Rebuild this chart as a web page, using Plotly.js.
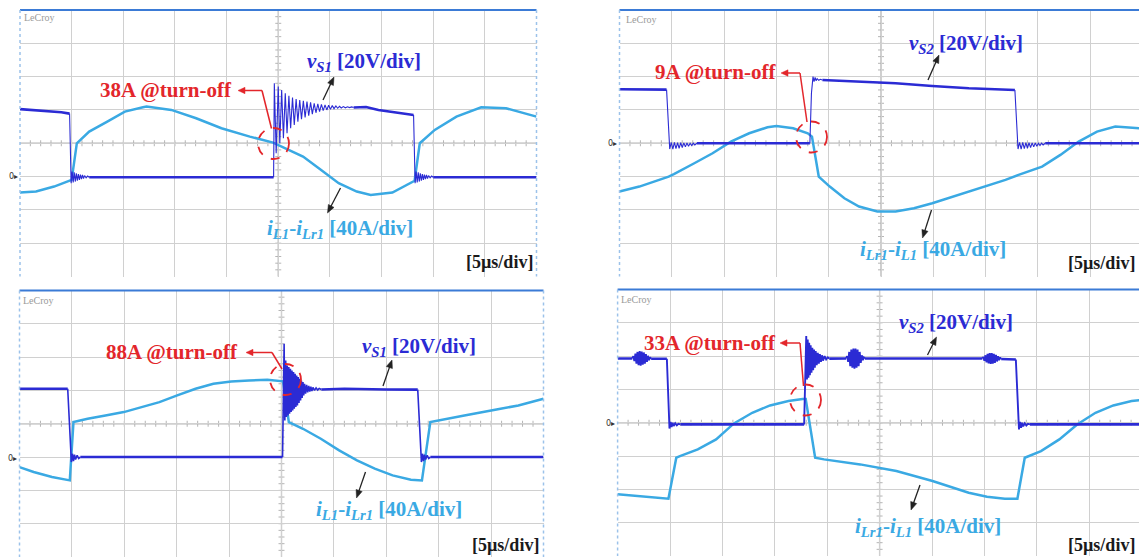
<!DOCTYPE html>
<html>
<head>
<meta charset="utf-8">
<script src="https://cdn.plot.ly/plotly-3.0.1.min.js"></script>
<style>html,body{margin:0;padding:0;background:#fff;}#chart{width:1139px;height:559px;}</style>
</head>
<body>
<div id="chart"></div>
<script>
// ===== DATA (time in µs, voltage in V, current in A) =====
// Panel 1 (top-left): vS1 and iL1-iLr1, 38A @turn-off
const p1_vs = [[-25,40.5],[-23,39.6],[-21,38.6],[-20.2,37.8],null,[-18.3,-0.4],[-15,-0.4],[-10,-0.5],[-5,-0.3],[-0.45,-0.4],null,[7.3,41.5],[8.5,41.8],[9.7,40],[11,38.8],[12.9,37.2],[13.1,37],null,[15,-0.4],[20,-0.5],[25,-0.4]];
const p1_ring = [[-20.2,37.8],[-20.1,10],[-20.05,-4],[-19.95,3],[-19.85,-3.5],[-19.75,2.5],[-19.65,-3],[-19.55,2],[-19.45,-2.5],[-19.35,1.5],[-19.25,-2],[-19.15,1.2],[-19.05,-1.5],[-18.95,1],[-18.85,-1.2],[-18.75,0.6],[-18.6,-0.8],[-18.45,0.3],[-18.3,-0.4],null,
 [-0.45,-0.4],[-0.38,56],[-0.2,14],[0,54],[0.15,20],[0.33,52],[0.5,23],[0.68,50],[0.85,26],[1.03,48.5],[1.2,29],[1.38,47.5],[1.55,31],[1.73,46.5],[1.9,33],[2.08,46],[2.25,34.5],[2.43,45.5],[2.6,35.5],[2.78,45],[2.95,36.5],[3.13,44.5],[3.3,37.5],[3.48,44],[3.65,38.3],[3.83,43.6],[4,39],[4.18,43.3],[4.35,39.6],[4.53,43],[4.7,40],[4.88,42.8],[5.05,40.4],[5.23,42.6],[5.4,40.8],[5.58,42.4],[5.75,41],[5.93,42.2],[6.1,41.2],[6.3,42],[6.5,41.3],[6.7,41.9],[6.9,41.4],[7.1,41.8],[7.3,41.5],null,
 [13.1,37],[13.2,10],[13.25,-4],[13.35,3],[13.45,-3.5],[13.55,2.5],[13.65,-3],[13.75,2],[13.85,-2.5],[13.95,1.5],[14.05,-2],[14.15,1.2],[14.25,-1.5],[14.35,1],[14.45,-1.2],[14.55,0.6],[14.7,-0.8],[14.85,0.3],[15,-0.4]];
const p1_i = [[-25,-19.2],[-23.45,-18],[-21.7,-12],[-20.15,-4],[-20,-4],[-19.5,40],[-18.3,54],[-16.55,66],[-14.85,78],[-13.1,83.2],[-12.75,84],[-10.35,80],[-7.95,70],[-5.5,58],[-2.75,48],[-0.5,40.8],[0.7,34],[2.4,24],[4.15,8],[5.85,-8],[7.6,-18],[8.95,-22],[11.05,-19.2],[13.1,-6],[13.2,-5],[13.7,40],[15.15,56],[17.25,72],[19.65,83.2],[22.05,82],[25,72]];

// Panel 2 (top-right): vS2 and iLr1-iL1, 9A @turn-off
const p2_vs = [[-25,32.4],[-22,32.4],[-20.5,32.2],null,[-17.6,0],[-12,0.2],[-8,0],[-6.8,0],null,[-5.6,38],[-2.1,37],[1.4,36],[4.9,34.4],[8.4,33],[12.8,32],null,[15.7,0],[20,0.2],[24.7,0]];
const p2_ring = [[-20.5,32.2],[-20.3,5],[-20.2,-3.5],[-20.05,0.5],[-19.9,-3.5],[-19.75,0.5],[-19.6,-3.2],[-19.45,0.3],[-19.3,-3],[-19.15,0.3],[-19,-2.6],[-18.85,0.2],[-18.7,-2.2],[-18.55,0.2],[-18.4,-1.8],[-18.25,0],[-18.1,-1.4],[-17.95,0],[-17.8,-1],[-17.6,0],null,
 [-6.8,0],[-6.65,30],[-6.5,40],[-6.4,37],[-6.3,39.5],[-6.2,37.5],[-6.1,38.8],[-5.95,37.8],[-5.8,38.4],[-5.6,38],null,
 [12.8,32],[13,5],[13.1,-3.5],[13.25,0.5],[13.4,-3.5],[13.55,0.5],[13.7,-3.2],[13.85,0.3],[14,-3],[14.15,0.3],[14.3,-2.6],[14.45,0.2],[14.6,-2.2],[14.75,0.2],[14.9,-1.8],[15.05,0],[15.2,-1.4],[15.35,0],[15.5,-1],[15.7,0]];
const p2_i = [[-25,-58],[-23.1,-52],[-20.3,-40],[-19.8,-37],[-17.85,-24],[-16.1,-12],[-14.35,2],[-12.6,12],[-10.85,19.2],[-10,20.8],[-8.4,18],[-7,12],[-6.6,8],[-5.95,-40],[-4.9,-52],[-3.5,-66],[-2.1,-76],[-0.35,-82],[1.4,-82],[3.15,-78],[4.9,-72],[8.4,-58],[11.9,-44],[13.15,-38],[15.4,-28],[17.15,-14],[18.9,2],[20.65,14],[22.4,20],[24.8,18]];

// Panel 3 (bottom-left): vS1 and iL1-iLr1, 88A @turn-off
const p3_vs = [[-25,41],[-20.4,41],null,[-19.2,0],[-10,0],[0.1,0],null,[3.8,40.6],[6,41],[10,40.6],[13,40.5],null,[14.2,0],[20,0],[25,0]];
const p3_ring = [[-20.4,41],[-20.15,5],[-20.05,-3],[-19.95,2],[-19.85,-2.5],[-19.75,1.5],[-19.65,-1.5],[-19.5,1],[-19.35,-0.8],[-19.2,0],null,
 [0.1,0],[0.25,68],[0.32,22],[0.4,58],[0.47,24],[0.55,55],[0.62,25],[0.7,54],[0.77,26],[0.85,53],[0.92,27],[1,52],[1.07,28],[1.15,51],[1.22,29],[1.3,50],[1.37,30],[1.45,49],[1.52,31],[1.6,48],[1.67,32.5],[1.75,47],[1.82,34],[1.9,46],[1.97,35.5],[2.05,45],[2.12,37],[2.2,44],[2.3,38],[2.4,43.3],[2.5,38.8],[2.6,42.7],[2.7,39.3],[2.8,42.2],[2.9,39.7],[3,41.8],[3.15,40],[3.3,41.5],[3.45,40.3],[3.6,41.2],[3.8,40.6],null,
 [13,40.5],[13.25,5],[13.35,-3],[13.45,2],[13.55,-2.5],[13.65,1.5],[13.75,-1.5],[13.9,1],[14.05,-0.8],[14.2,0]];
const p3_i = [[-25,-12],[-23.65,-18],[-21.9,-24],[-20.4,-28],[-20.2,-28],[-19.85,42],[-18.5,46],[-16.8,50],[-15.05,54],[-13.35,60],[-11.65,66],[-9.95,74],[-8.2,82],[-6.5,88],[-4.8,90.8],[-3.1,92],[-1.35,92.8],[0.15,91],[0.7,42],[2.05,34],[3.75,22],[5.5,8],[7.2,-4],[8.9,-14],[10.6,-22],[12.35,-27.2],[13.2,-28],[13.4,-28],[14.2,42],[15.75,46],[17.45,50],[20.9,58],[22.6,62],[25,70]];

// Panel 4 (bottom-right): vS2 and iLr1-iL1, 33A @turn-off
const p4_vs = [[-25,38.6],[-23.6,38.6],null,[-21.8,38.4],[-20.3,38.4],null,[-19,-1],[-12,-1],[-7.2,-1],null,[-4.8,38.5],[-3.2,38.6],null,[-1.4,38.6],[5,38.6],[9.8,38.6],null,[11.6,38.3],[13,38],null,[14.35,-1],[20,-1],[24.8,-1]];
const p4_ring = [[-23.6,38.6],[-23.5,40],[-23.4,37],[-23.3,41.5],[-23.2,35.5],[-23.1,42.5],[-23,34.5],[-22.9,43],[-22.8,34.3],[-22.7,42.8],[-22.6,34.8],[-22.5,42.2],[-22.4,35.5],[-22.3,41.2],[-22.2,36.5],[-22.1,40.2],[-22,37.5],[-21.9,39.3],[-21.8,38.4],null,
 [-20.3,38.4],[-20.15,5],[-20.05,-3.5],[-19.95,0.5],[-19.85,-2.5],[-19.75,0],[-19.65,-2],[-19.5,-0.3],[-19.35,-1.5],[-19.2,-0.6],[-19,-1],null,
 [-7.2,-1],[-7.1,24.8],[-7,52],[-6.93,26],[-6.86,50],[-6.79,27],[-6.72,48],[-6.65,28.5],[-6.58,46.5],[-6.5,30],[-6.42,45],[-6.34,31.5],[-6.26,44],[-6.18,33],[-6.1,43],[-6,34.5],[-5.9,42],[-5.8,35.5],[-5.7,41.2],[-5.6,36.5],[-5.5,40.5],[-5.4,37.3],[-5.25,40],[-5.1,38],[-4.95,39.3],[-4.8,38.5],null,
 [-3.2,38.6],[-3.1,40],[-3,36.5],[-2.9,42.5],[-2.8,34],[-2.7,44],[-2.6,33],[-2.5,44.5],[-2.4,32.5],[-2.3,44.5],[-2.2,33],[-2.1,44],[-2,34],[-1.9,42.5],[-1.8,36],[-1.7,40.5],[-1.6,37.5],[-1.5,39.2],[-1.4,38.6],null,
 [9.8,38.6],[9.9,39.5],[10,37.2],[10.1,40.5],[10.2,36.2],[10.3,41.3],[10.4,35.6],[10.5,41.8],[10.6,35.3],[10.7,41.8],[10.8,35.5],[10.9,41.3],[11,36],[11.1,40.7],[11.2,36.8],[11.3,40],[11.4,37.6],[11.5,39.2],[11.6,38.3],null,
 [13,38],[13.2,5],[13.3,-4],[13.4,0.5],[13.5,-3],[13.6,0],[13.7,-2.2],[13.85,-0.3],[14,-1.6],[14.15,-0.6],[14.35,-1]];
const p4_i = [[-25,-86],[-22.5,-88.8],[-20.15,-91.2],[-19.4,-42],[-19.05,-40],[-17.35,-32],[-15.6,-20],[-13.9,-0.8],[-12.15,12],[-10.45,20.8],[-8.7,26],[-7.35,28.4],[-7.05,28.5],[-6.15,-42],[-5.3,-44],[-1.85,-50],[1.6,-58],[5.05,-70],[8.5,-84],[10.25,-88.8],[11.95,-91.2],[13.15,-91.2],[13.85,-42],[15.4,-34],[17.15,-20],[18.85,-2],[20.6,12],[22.3,20.8],[24.05,26],[25,27.2]];

// Text labels
const vLabels = ['<i>v<sub>S1</sub></i> [20V/div]','<i>v<sub>S2</sub></i> [20V/div]','<i>v<sub>S1</sub></i> [20V/div]','<i>v<sub>S2</sub></i> [20V/div]'];
const iLabels = ['<i>i<sub>L1</sub></i>-<i>i<sub>Lr1</sub></i> [40A/div]','<i>i<sub>Lr1</sub></i>-<i>i<sub>L1</sub></i> [40A/div]','<i>i<sub>L1</sub></i>-<i>i<sub>Lr1</sub></i> [40A/div]','<i>i<sub>Lr1</sub></i>-<i>i<sub>L1</sub></i> [40A/div]'];
const offLabels = ['38A @turn-off','9A @turn-off','88A @turn-off','33A @turn-off'];
const timeLabel = '[5µs/div]';

// ===== LAYOUT / STYLE =====
const W = 1139, H = 559;
const px = x => x / W, py = y => 1 - y / H;
const DB = '#2b2bd4', LB = '#3aa9e3', RED = '#e3262b';
const FONT = 'Liberation Serif';

const panels = [
  {L:20, R:536.5, T:10, B:276.5, span:50, vr:[-60,100], ir:[-120,200], right:true, rw:1.1,
   vs:p1_vs, ring:p1_ring, cur:p1_i,
   vlab:[305,62], varr:[334,77,323,100], ilab:[265,229], iarr:[327.5,213,340.5,188],
   olab:[98,90], oarr:[238,90.5,262,90.5,271.5,128.5], circ:[273.5,143.5], tlab:[535,262], lc:[22,18], zero:[20,177]},
  {L:619.5, R:1139, T:10, B:276.5, span:5*(1139-619.5)/52.3, vr:[-80,80], ir:[-160,160], right:false, rw:1.1,
   vs:p2_vs, ring:p2_ring, cur:p2_i,
   vlab:[907,43.5], varr:[939,55,928,80], ilab:[858,250], iarr:[922.5,238,931.5,210],
   olab:[653,72], oarr:[781,73,800,73,807,122], circ:[811.5,137], tlab:[1137,263], lc:[624,19], zero:[619,143]},
  {L:19.5, R:543.5, T:290.5, B:557, span:50, vr:[-60,100], ir:[-120,200], right:true, rw:1.6,
   vs:p3_vs, ring:p3_ring, cur:p3_i,
   vlab:[360,347], varr:[392,360,383,386], ilab:[314,510], iarr:[356.5,498,365.5,472],
   olab:[104,352], oarr:[246,352.5,272,352.5,282,369], circ:[285.5,379.5], tlab:[541,545], lc:[21,300], zero:[19,458]},
  {L:617.6, R:1139, T:289.5, B:556, span:5*(1139-617.6)/52.4, vr:[-80,80], ir:[-160,160], right:false, rw:1.9,
   vs:p4_vs, ring:p4_ring, cur:p4_i,
   vlab:[896.5,323], varr:[936.5,337,927.5,355], ilab:[853,527], iarr:[911,510,920,485],
   olab:[642,343], oarr:[780,343,800,343,803.5,386], circ:[805.5,400], tlab:[1137,545], lc:[619,299], zero:[617,423]}
];

function tr(pairs, xa, ya, color, width) {
  return {type:'scatter', mode:'lines', x:pairs.map(p => p ? p[0] : null), y:pairs.map(p => p ? p[1] : null),
    xaxis:xa, yaxis:ya, line:{color:color, width:width}, hoverinfo:'skip', connectgaps:false, showlegend:false};
}

const data = [], shapes = [], annotations = [];
const layout = {width:W, height:H, margin:{l:0,r:0,t:0,b:0}, paper_bgcolor:'#fff', plot_bgcolor:'rgba(0,0,0,0)',
  showlegend:false, font:{family:FONT, size:14}, shapes:shapes, annotations:annotations};

// arrow drawn as shapes: line + filled head (pixel coords converted to paper)
function arrow(hx, hy, tx, ty, color, w, len, half) {
  const dx = hx - tx, dy = hy - ty, d = Math.hypot(dx, dy), ux = dx / d, uy = dy / d;
  const bx = hx - ux * len, by = hy - uy * len;
  shapes.push({type:'line', xref:'paper', yref:'paper', x0:px(tx), y0:py(ty), x1:px(bx + ux), y1:py(by + uy), line:{color:color, width:w}});
  const p1x = bx - uy * half, p1y = by + ux * half, p2x = bx + uy * half, p2y = by - ux * half;
  shapes.push({type:'path', xref:'paper', yref:'paper', fillcolor:color, line:{color:color, width:0.5},
    path:'M' + px(hx) + ',' + py(hy) + ' L' + px(p1x) + ',' + py(p1y) + ' L' + px(p2x) + ',' + py(p2y) + ' Z'});
}

const GRID = '#d0d0d0';
panels.forEach((p, k) => {
  const xn = k === 0 ? '' : String(k + 1);
  const yi = k === 0 ? '' : String(2 * k + 1);
  const yv = String(2 * k + 2);
  const xa = 'x' + xn, ya = 'y' + yi, yva = 'y' + yv;
  const divpx = (p.R - p.L) / (p.span / 5);
  const hpx = p.B - p.T;
  layout['xaxis' + xn] = {domain:[px(p.L), px(p.R)], range:[-25, -25 + p.span], anchor:ya, showgrid:true, gridcolor:GRID, gridwidth:1.3,
    dtick:5, tick0:-25, showticklabels:false, zeroline:false, ticks:'', showline:false, fixedrange:true};
  layout['yaxis' + yi] = {domain:[py(p.B), py(p.T)], range:p.ir, anchor:xa, showgrid:true, gridcolor:GRID, gridwidth:1.3,
    dtick:(p.ir[1] - p.ir[0]) / 8, tick0:p.ir[0], showticklabels:false, zeroline:false, ticks:'', showline:false, fixedrange:true};
  layout['yaxis' + yv] = {overlaying:ya, anchor:xa, range:p.vr, showgrid:false, showticklabels:false, zeroline:false, ticks:'', showline:false, fixedrange:true};

  data.push(tr(p.cur, xa, ya, LB, 2.5));
  data.push(tr(p.ring, xa, yva, DB, p.rw));
  data.push(tr(p.vs, xa, yva, DB, 2.6));

  // graticule centre lines and ticks
  const CL = '#b5b5b5';
  shapes.push({type:'line', layer:'below', xref:xa + ' domain', yref:ya + ' domain', x0:0, x1:1, y0:0.5, y1:0.5, line:{color:CL, width:1.3}});
  shapes.push({type:'line', layer:'below', xref:xa, yref:ya + ' domain', x0:0, x1:0, y0:0, y1:1, line:{color:CL, width:1.3}});
  for (let t = -24; t < -25 + p.span; t += 1) {
    shapes.push({type:'line', layer:'below', xref:xa, yref:ya + ' domain', x0:t, x1:t, y0:0.5 - 3 / hpx, y1:0.5 + 3 / hpx, line:{color:CL, width:1}});
  }
  const ht = 3 / divpx * 5;
  for (let j = 1; j < 40; j++) {
    shapes.push({type:'line', layer:'below', xref:xa, yref:ya + ' domain', x0:-ht, x1:ht, y0:j / 40, y1:j / 40, line:{color:CL, width:1}});
  }
  // frame
  shapes.push({type:'line', xref:'paper', yref:'paper', x0:px(p.L), x1:px(p.R), y0:py(p.T), y1:py(p.T), line:{color:'#3b7bd6', width:2}});
  shapes.push({type:'line', xref:'paper', yref:'paper', x0:px(p.L), x1:px(p.L), y0:py(p.T), y1:py(p.B), line:{color:'#9cc2ea', width:1.5, dash:'dot'}});
  if (p.right) shapes.push({type:'line', xref:'paper', yref:'paper', x0:px(p.R), x1:px(p.R), y0:py(p.T), y1:py(p.B), line:{color:'#9cc2ea', width:1.5, dash:'dot'}});

  // red dashed circle and bent arrow
  const r = 15.5;
  shapes.push({type:'circle', xref:'paper', yref:'paper', x0:px(p.circ[0] - r), x1:px(p.circ[0] + r), y0:py(p.circ[1] + r), y1:py(p.circ[1] - r), line:{color:RED, width:1.8, dash:'dash'}});
  const o = p.oarr;
  shapes.push({type:'line', xref:'paper', yref:'paper', x0:px(o[2]), y0:py(o[3]), x1:px(o[4]), y1:py(o[5]), line:{color:RED, width:1.5}});
  arrow(o[0], o[1], o[2], o[3], RED, 1.5, 7, 3.2);

  // black arrows
  arrow(p.varr[0], p.varr[1], p.varr[2], p.varr[3], '#222', 1.3, 8, 3.2);
  arrow(p.iarr[0], p.iarr[1], p.iarr[2], p.iarr[3], '#222', 1.3, 8, 3.2);

  // labels
  const lab = (x, y, text, color, size, anchor, weight) => annotations.push({xref:'paper', yref:'paper', x:px(x), y:py(y), text:text,
    showarrow:false, xanchor:anchor || 'left', yanchor:'middle', font:{family:FONT, size:size, color:color, weight:weight || 700}});
  lab(p.vlab[0], p.vlab[1], vLabels[k], DB, 21);
  lab(p.ilab[0], p.ilab[1], iLabels[k], LB, 21);
  lab(p.olab[0], p.olab[1], offLabels[k], RED, 21);
  lab(p.tlab[0], p.tlab[1], timeLabel, '#1a1a1a', 18, 'right');
  lab(p.lc[0], p.lc[1], 'LeCroy', '#9a9a9a', 10, 'left', 400);
  annotations.push({xref:'paper', yref:'paper', x:px(p.zero[0]), y:py(p.zero[1]), text:'0▸', showarrow:false, xanchor:'right', yanchor:'middle',
    font:{family:'DejaVu Sans', size:8, color:'#333'}});
});

Plotly.newPlot('chart', data, layout, {displayModeBar:false});
</script>
</body>
</html>
